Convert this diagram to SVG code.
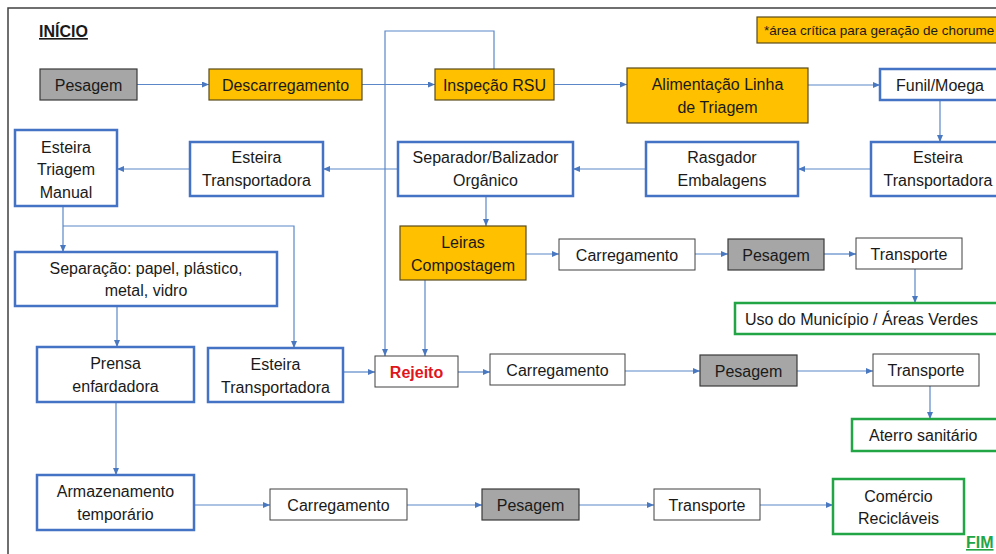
<svg xmlns="http://www.w3.org/2000/svg" width="996" height="554" viewBox="0 0 996 554">
<style>
text{font-family:"Liberation Sans",Arial,sans-serif;font-size:16px;fill:#1a1a1a;text-anchor:middle}
.blue{fill:#fff;stroke:#4472c4;stroke-width:2.5}
.orange{fill:#ffc000;stroke:#5a4a1a;stroke-width:1.2}
.gray{fill:#a6a6a6;stroke:#3a3a3a;stroke-width:1.2}
.white{fill:#fff;stroke:#404040;stroke-width:1}
.green{fill:#fff;stroke:#22a545;stroke-width:2.5}
.conn path{fill:none;stroke:#5b87c9;stroke-width:1.2}
.arr{marker-end:url(#ah)}
</style>
<defs>
<marker id="ah" markerUnits="userSpaceOnUse" markerWidth="7" markerHeight="6" refX="7" refY="3" orient="auto">
<path d="M0,0 L7,3 L0,6 z" fill="#4a78c0"/>
</marker>
</defs>
<rect x="0" y="0" width="996" height="554" fill="#fff"/>
<rect x="8" y="8" width="1010" height="570" fill="#fff" stroke="#404040" stroke-width="1.5"/>

<g id="inicio"><text x="39" y="37" style="font-weight:bold;text-anchor:start;text-decoration:underline">INÍCIO</text></g>
<g id="nota"><rect x="757" y="17" width="250" height="26" class="orange"/><text x="764" y="35" style="font-size:13.5px;text-anchor:start">*área crítica para geração de chorume</text></g>
<g id="fim"><text x="966" y="548" style="font-weight:bold;text-anchor:start;text-decoration:underline;fill:#22a545">FIM</text></g>

<g class="conn">
<path class="arr" d="M137,84.5 H209"/>
<path class="arr" d="M362,84.5 H435"/>
<path class="arr" d="M554,84.5 H627"/>
<path class="arr" d="M808,85 H880"/>
<path class="arr" d="M940,100 V142"/>
<path class="arr" d="M871,169 H798"/>
<path class="arr" d="M646,169 H573"/>
<path class="arr" d="M398,169 H323"/>
<path class="arr" d="M190,169 H117"/>
<path class="arr" d="M494,69 V31 H385 V356"/>
<path class="arr" d="M486,196 V226"/>
<path class="arr" d="M425,280 V356"/>
<path class="arr" d="M526,254 H559"/>
<path class="arr" d="M695,254 H728"/>
<path class="arr" d="M824,254 H856"/>
<path class="arr" d="M915,269 V303"/>
<path class="arr" d="M63,207 V252"/>
<path class="arr" d="M63,226 H294 V348"/>
<path class="arr" d="M117,306 V347"/>
<path class="arr" d="M116,402 V475"/>
<path class="arr" d="M343,372 H375"/>
<path class="arr" d="M458,372 H490"/>
<path class="arr" d="M625,371 H700"/>
<path class="arr" d="M797,371 H873"/>
<path class="arr" d="M930,386 V419"/>
<path class="arr" d="M194,505 H270"/>
<path class="arr" d="M407,505 H482"/>
<path class="arr" d="M579,505 H654"/>
<path class="arr" d="M760,505 H833"/>
</g>

<g id="pesagem1"><rect x="40" y="69" width="97" height="31" class="gray"/><text x="88.5" y="90.5">Pesagem</text></g>
<g id="descarregamento"><rect x="209" y="69" width="153" height="31" class="orange"/><text x="285.5" y="90.5">Descarregamento</text></g>
<g id="inspecao"><rect x="435" y="69" width="119" height="31" class="orange"/><text x="494.5" y="90.5">Inspeção RSU</text></g>
<g id="alimentacao"><rect x="627" y="68" width="181" height="55" class="orange"/><text x="717.5" y="90">Alimentação Linha</text><text x="717.5" y="113">de Triagem</text></g>
<g id="funil"><rect x="880" y="69" width="122" height="31" class="blue"/><text x="940" y="90.5">Funil/Moega</text></g>
<g id="esteira_r"><rect x="871" y="142" width="132" height="54" class="blue"/><text x="938" y="163">Esteira</text><text x="938" y="186">Transportadora</text></g>
<g id="rasgador"><rect x="646" y="142" width="152" height="54" class="blue"/><text x="722" y="163">Rasgador</text><text x="722" y="186">Embalagens</text></g>
<g id="separador"><rect x="398" y="142" width="175" height="54" class="blue"/><text x="485.5" y="163">Separador/Balizador</text><text x="485.5" y="186">Orgânico</text></g>
<g id="esteira_m"><rect x="190" y="142" width="133" height="54" class="blue"/><text x="256.5" y="163">Esteira</text><text x="256.5" y="186">Transportadora</text></g>
<g id="esteira_triagem"><rect x="15" y="130" width="102" height="76" class="blue"/><text x="66" y="153">Esteira</text><text x="66" y="175">Triagem</text><text x="66" y="198">Manual</text></g>
<g id="separacao"><rect x="15" y="252" width="262" height="54" class="blue"/><text x="146" y="274">Separação: papel, plástico,</text><text x="146" y="296">metal, vidro</text></g>
<g id="prensa"><rect x="37" y="347" width="157" height="55" class="blue"/><text x="115.5" y="369">Prensa</text><text x="115.5" y="392">enfardadora</text></g>
<g id="esteira_l"><rect x="208" y="348" width="135" height="54" class="blue"/><text x="275.5" y="370">Esteira</text><text x="275.5" y="393">Transportadora</text></g>
<g id="rejeito"><rect x="375" y="356" width="83" height="31" class="white"/><text x="416.5" y="377.5" style="font-weight:bold;fill:#e0161d">Rejeito</text></g>
<g id="leiras"><rect x="400" y="226" width="126" height="54" class="orange"/><text x="463" y="248">Leiras</text><text x="463" y="271">Compostagem</text></g>
<g id="carreg1"><rect x="559" y="239" width="136" height="31" class="white"/><text x="627" y="260.5">Carregamento</text></g>
<g id="pesagem2"><rect x="728" y="239" width="96" height="31" class="gray"/><text x="776" y="260.5">Pesagem</text></g>
<g id="transp1"><rect x="856" y="238" width="106" height="31" class="white"/><text x="909" y="259.5">Transporte</text></g>
<g id="uso"><rect x="735" y="303" width="275" height="31" class="green"/><text x="745" y="324.5" style="text-anchor:start">Uso do Município / Áreas Verdes</text></g>
<g id="carreg2"><rect x="490" y="354" width="135" height="31" class="white"/><text x="557.5" y="375.5">Carregamento</text></g>
<g id="pesagem3"><rect x="700" y="355" width="97" height="31" class="gray"/><text x="748.5" y="376.5">Pesagem</text></g>
<g id="transp2"><rect x="873" y="354" width="106" height="32" class="white"/><text x="926" y="376">Transporte</text></g>
<g id="aterro"><rect x="852" y="419" width="155" height="32" class="green"/><text x="869" y="441" style="text-anchor:start">Aterro sanitário</text></g>
<g id="armazenamento"><rect x="37" y="475" width="157" height="55" class="blue"/><text x="115.5" y="497">Armazenamento</text><text x="115.5" y="520">temporário</text></g>
<g id="carreg3"><rect x="270" y="489" width="137" height="31" class="white"/><text x="338.5" y="510.5">Carregamento</text></g>
<g id="pesagem4"><rect x="482" y="489" width="97" height="31" class="gray"/><text x="530.5" y="510.5">Pesagem</text></g>
<g id="transp3"><rect x="654" y="489" width="106" height="31" class="white"/><text x="707" y="510.5">Transporte</text></g>
<g id="comercio"><rect x="833" y="479" width="131" height="55" class="green"/><text x="898.5" y="502">Comércio</text><text x="898.5" y="524">Recicláveis</text></g>
</svg>
